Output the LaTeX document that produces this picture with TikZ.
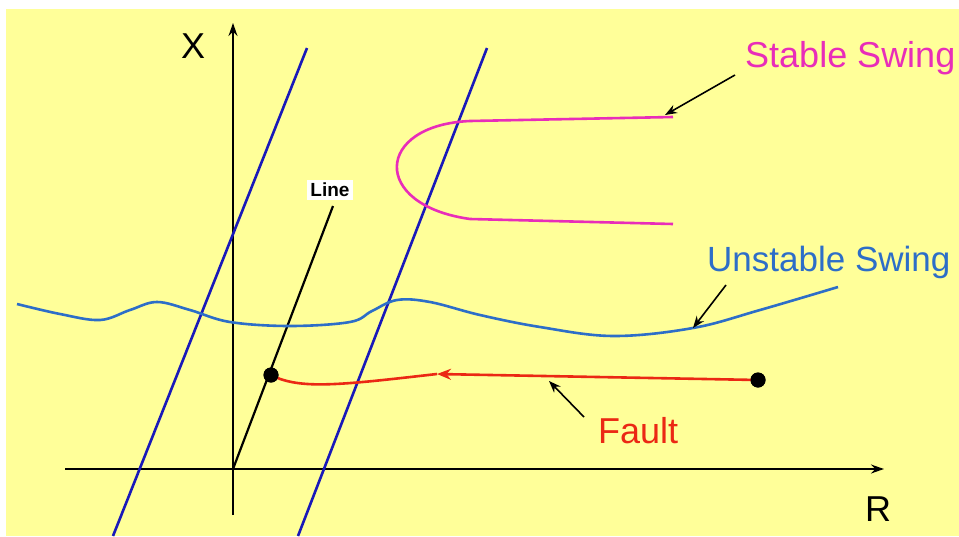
\documentclass[tikz,border=0pt]{standalone}
\usepackage{fontspec}
\setmainfont{Liberation Sans}
\usetikzlibrary{arrows.meta}
\definecolor{bgyellow}{RGB}{255,255,153}
\definecolor{zoneblue}{RGB}{25,25,185}
\definecolor{swingpink}{RGB}{232,45,185}
\definecolor{swingblue}{RGB}{45,110,200}
\definecolor{faultred}{RGB}{235,40,20}

\begin{document}
\begin{tikzpicture}[x=1pt, y=-1pt,
    axis/.style={line width=1.6pt, -{Stealth[length=13pt,width=9pt]}},
    zone/.style={line width=2.6pt, draw=zoneblue},
    curve/.style={line width=2.6pt, draw=#1},
    lbl/.style={anchor=base west, inner sep=0pt, font=\fontsize{36}{40}\selectfont, text=#1},
    arr/.style={line width=1.6pt, -{Stealth[length=12pt,width=9pt]}},
    dot/.style={circle, fill=black, inner sep=0pt, minimum size=15pt},
]
    \useasboundingbox (0,0) rectangle (959,536);
    \fill[white] (0,0) rectangle (959,536);
    \fill[bgyellow] (6,9) rectangle (959,536);
    \clip (0,0) rectangle (959,536);

    \coordinate (o)     at (233,469);
    \coordinate (ybot)  at (233,515);
    \coordinate (ytop)  at (233,23);
    \coordinate (xleft) at (65,469);
    \coordinate (xright) at (884,469);
    \coordinate (linetop) at (333,206);

    \draw[axis] (ybot) -- (ytop);
    \draw[axis] (xleft) -- (xright);
    \node[lbl=black] (xlbl) at (181,58) {X};
    \node[lbl=black] (rlbl) at (865,521) {R};

    \draw[zone] (307,48) -- (113,536);
    \draw[zone] (487,48) -- (298,536);

    \draw[line width=2.2pt] (o) -- (linetop);
    \node[fill=white, inner sep=3pt, font=\fontsize{19}{20}\selectfont\bfseries] (linelbl) at (330,190) {Line};

    \draw[curve=swingpink] (673,117) -- (470,121) .. controls (375,125) and (370,205) .. (470,219) -- (673,224);

    \draw[curve=swingblue] plot[smooth, tension=0.6] coordinates {
        (17,304) (60,314) (100,320) (130,310) (157,302) (190,310) (230,322)
        (290,326) (350,322) (372,311) (397,300) (430,302) (480,315) (540,327)
        (613,336) (693,328) (760,310) (838,287)};

    \node[dot] (dotL) at (271,375) {};
    \node[dot] (dotR) at (758,380) {};
    \coordinate (fmid) at (437,374);
    \draw[curve=faultred, -{Stealth[length=14pt,width=11pt]}] (dotR.center) -- (fmid);
    \draw[curve=faultred] (fmid) .. controls (340,385) and (300,390) .. (dotL.center);
    \node[dot] at (dotL) {};
    \node[dot] at (dotR) {};

    \node[lbl=swingpink] (stable)   at (745,67)  {Stable Swing};
    \node[lbl=swingblue, font=\fontsize{35}{40}\selectfont] (unstable) at (707,271) {Unstable Swing};
    \node[lbl=faultred]  (fault)    at (598,443) {Fault};

    \coordinate (stabfrom) at (735,75);
    \coordinate (stabto)   at (665,115);
    \coordinate (unstfrom) at (726,285);
    \coordinate (unstto)   at (693,328);
    \coordinate (fltfrom)  at (584,417);
    \coordinate (fltto)    at (549,381);

    \draw[arr] (stabfrom) -- (stabto);
    \draw[arr] (unstfrom) -- (unstto);
    \draw[arr] (fltfrom)  -- (fltto);
\end{tikzpicture}
\end{document}
